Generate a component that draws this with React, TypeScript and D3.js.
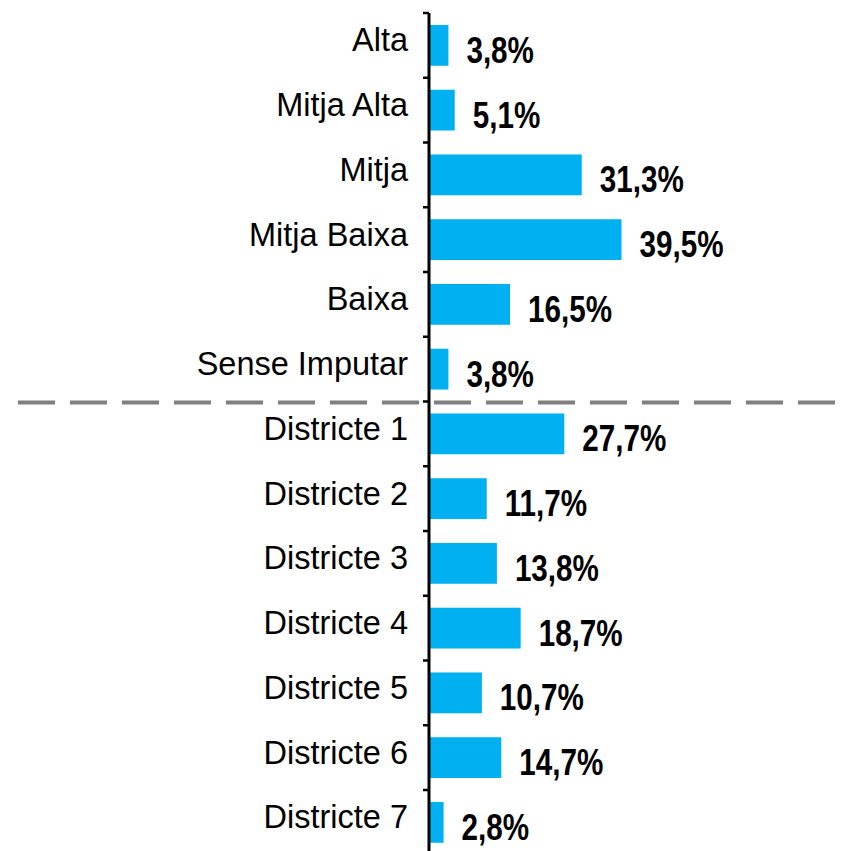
import React from "react";
import * as d3 from "d3";

const categories = [
  "Alta",
  "Mitja Alta",
  "Mitja",
  "Mitja Baixa",
  "Baixa",
  "Sense Imputar",
  "Districte 1",
  "Districte 2",
  "Districte 3",
  "Districte 4",
  "Districte 5",
  "Districte 6",
  "Districte 7",
];
const values = [3.8, 5.1, 31.3, 39.5, 16.5, 3.8, 27.7, 11.7, 13.8, 18.7, 10.7, 14.7, 2.8];
const valueLabels = ["3,8%", "5,1%", "31,3%", "39,5%", "16,5%", "3,8%", "27,7%", "11,7%", "13,8%", "18,7%", "10,7%", "14,7%", "2,8%"];
// the dashed separator sits after this group
const separatorAfter = "Sense Imputar";

const W = 845;
const H = 851;
const axisX = 429;

export default function App() {
  const step = 64.75;
  const top = 13;
  const y = d3
    .scaleBand<string>()
    .domain(categories)
    .range([top, top + step * categories.length])
    .paddingInner(0.37)
    .paddingOuter(0.185);
  const x = d3.scaleLinear().domain([0, 39.5]).range([axisX, 620.5]);

  const sepIdx = categories.indexOf(separatorAfter) + 1;
  const sepY = top + y.step() * sepIdx + 1;

  return (
    <svg
      width={W}
      height={H}
      style={{ position: "absolute", left: 0, top: 0 }}
      fontFamily="'Liberation Sans', Arial, sans-serif"
    >
      <rect width={W} height={H} fill="#fff" />
      {categories.map((c, i) => {
        const yc = (y(c) ?? 0) + y.bandwidth() / 2;
        return (
          <g key={c}>
            <rect
              x={x(0) + 1}
              y={y(c)}
              width={x(values[i]) - x(0)}
              height={y.bandwidth()}
              fill="#00B0F0"
            />
            <text x={axisX - 21} y={yc + 6} textAnchor="end" fontSize={32.5} fill="#000">
              {c}
            </text>
            <text
              transform={`translate(${x(values[i]) + 19},${yc + 17.5}) scale(0.79,1)`}
              fontSize={37.5}
              fontWeight="bold"
              fill="#000"
            >
              {valueLabels[i]}
            </text>
          </g>
        );
      })}
      <line
        x1={18}
        x2={W}
        y1={sepY}
        y2={sepY}
        stroke="#808080"
        strokeWidth={4}
        strokeDasharray="37 15"
      />
      <line x1={axisX} x2={axisX} y1={top} y2={H} stroke="#000" strokeWidth={3} />
      {d3.range(categories.length + 1).map((i) => (
        <line
          key={i}
          x1={axisX - 6}
          x2={axisX}
          y1={top + y.step() * i}
          y2={top + y.step() * i}
          stroke="#000"
          strokeWidth={2.5}
        />
      ))}
    </svg>
  );
}
